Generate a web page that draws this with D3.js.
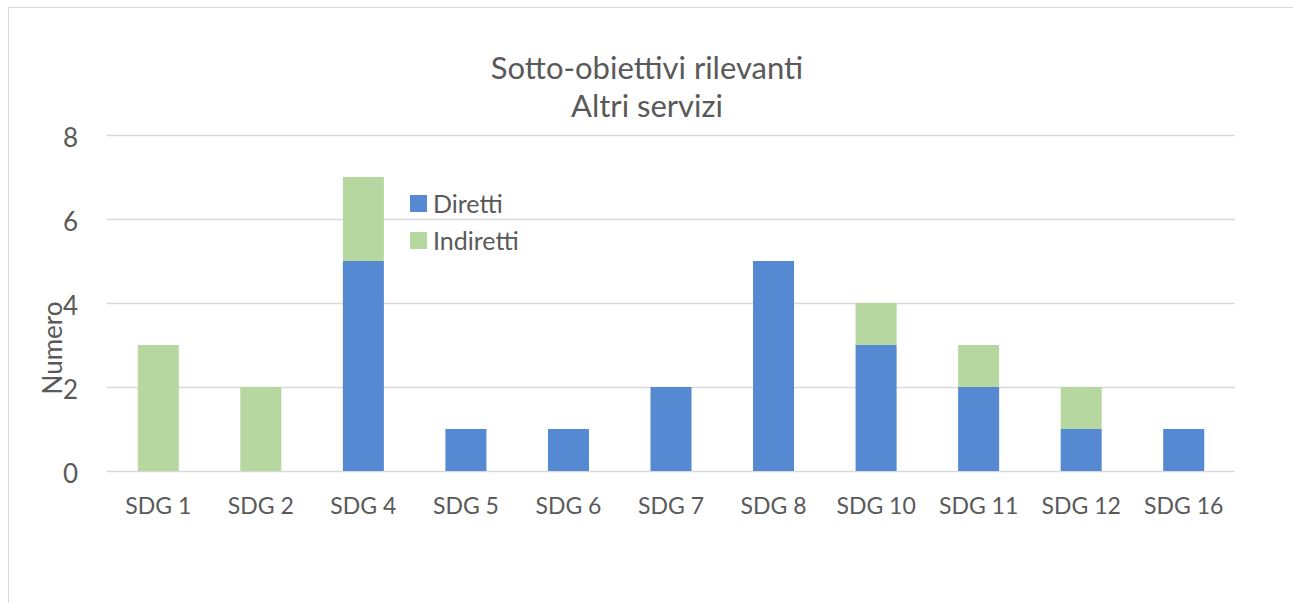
<!DOCTYPE html>
<html>
<head>
<meta charset="utf-8">
<script src="https://cdn.jsdelivr.net/npm/d3@7"></script>
<style>
  body { margin: 0; background: #fff; }
  text { font-family: Lato, "Open Sans", sans-serif; fill: #595959; }
</style>
</head>
<body>
<svg width="1293" height="603"></svg>
<script>
const width = 1293;
const height = 603;

// data
var categories = ["SDG 1", "SDG 2", "SDG 4", "SDG 5", "SDG 6", "SDG 7", "SDG 8", "SDG 10", "SDG 11", "SDG 12", "SDG 16"];
var diretti = [0, 0, 5, 1, 1, 2, 5, 3, 2, 1, 1];
var indiretti = [3, 2, 2, 0, 0, 0, 0, 1, 1, 1, 0];
var seriesNames = ["Diretti", "Indiretti"];
var seriesColors = ["#5589d2", "#b6d7a0"];
var yTicks = [0, 2, 4, 6, 8];

var svg = d3.select("svg");

// chart border
svg.append("rect")
  .attr("x", 8.5).attr("y", 7.5)
  .attr("width", width).attr("height", height)
  .attr("fill", "none")
  .attr("stroke", "#d9d9d9");

var margin = {left: 107, right: 58, top: 135, bottom: 132};

var x = d3.scaleBand()
  .domain(categories)
  .range([margin.left, width - margin.right])
  .paddingInner(0.6)
  .paddingOuter(0.3);

var y = d3.scaleLinear()
  .domain([0, 8])
  .range([height - margin.bottom, margin.top]);

var rows = categories.map(function (c, i) {
  return {cat: c, Diretti: diretti[i], Indiretti: indiretti[i]};
});
var stacked = d3.stack().keys(seriesNames)(rows);

// gridlines
svg.append("g")
  .selectAll("line")
  .data(yTicks)
  .join("line")
  .attr("x1", margin.left).attr("x2", width - margin.right)
  .attr("y1", function (d) { return Math.round(y(d)) + 0.5; })
  .attr("y2", function (d) { return Math.round(y(d)) + 0.5; })
  .attr("stroke", "#d9d9d9")
  .attr("stroke-width", 1.5);

// y tick labels
var yAxis = svg.append("g")
  .attr("transform", "translate(" + (margin.left - 29) + ",0)")
  .call(d3.axisLeft(y).tickValues(yTicks).tickSize(0).tickPadding(0));
yAxis.select(".domain").remove();
yAxis.selectAll("text")
  .style("font-family", "Lato, 'Open Sans', sans-serif")
  .style("font-size", "26px")
  .attr("dy", "0.45em")
  .attr("fill", "#595959");

// bars
svg.append("g")
  .selectAll("g")
  .data(stacked)
  .join("g")
  .attr("fill", function (d, i) { return seriesColors[i]; })
  .selectAll("rect")
  .data(function (d) { return d; })
  .join("rect")
  .attr("x", function (d) { return x(d.data.cat); })
  .attr("y", function (d) { return y(d[1]); })
  .attr("width", x.bandwidth())
  .attr("height", function (d) { return y(d[0]) - y(d[1]); });

// x category labels
var xAxis = svg.append("g")
  .attr("transform", "translate(0," + (height - margin.bottom) + ")")
  .call(d3.axisBottom(x).tickSize(0).tickPadding(27));
xAxis.select(".domain").remove();
xAxis.selectAll("text")
  .style("font-family", "Lato, 'Open Sans', sans-serif")
  .style("font-size", "23px")
  .attr("fill", "#595959");

// axis title
svg.append("text")
  .attr("transform", "translate(62,348) rotate(-90)")
  .attr("text-anchor", "middle")
  .style("font-size", "26px")
  .text("Numero");

// chart title, two lines
svg.append("text")
  .attr("x", 647).attr("y", 79)
  .attr("text-anchor", "middle")
  .style("font-size", "31px")
  .text("Sotto-obiettivi rilevanti");
svg.append("text")
  .attr("x", 647).attr("y", 117)
  .attr("text-anchor", "middle")
  .style("font-size", "31px")
  .text("Altri servizi");

// legend
var legend = svg.append("g")
  .selectAll("g")
  .data(seriesNames)
  .join("g")
  .attr("transform", function (d, i) { return "translate(410," + (195 + i * 37) + ")"; });
legend.append("rect")
  .attr("width", 17).attr("height", 17)
  .attr("fill", function (d, i) { return seriesColors[i]; });
legend.append("text")
  .attr("x", 23).attr("y", 18)
  .style("font-size", "25px")
  .text(function (d) { return d; });
</script>
</body>
</html>
